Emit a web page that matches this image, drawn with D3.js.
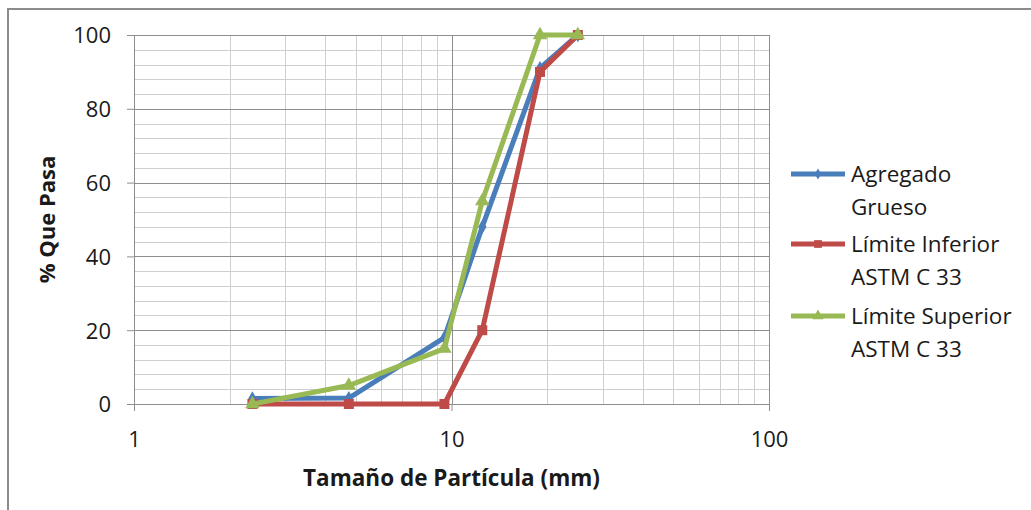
<!DOCTYPE html>
<html>
<head>
<meta charset="utf-8">
<script src="https://cdn.jsdelivr.net/npm/d3@7"></script>
<style>
  body { margin: 0; background: #fff; }
  svg text { font-family: "Open Sans", "Noto Sans", sans-serif; fill: #1a1a1a; }
</style>
</head>
<body>
<script>
// sieve sizes (mm) and % passing
const sizes = [2.36, 4.75, 9.5, 12.5, 19, 25];
const agregado = [1.5, 1.6, 18, 48, 91, 100];
const inferior = [0, 0, 0, 20, 90, 100];
const superior = [0, 5, 15, 55, 100, 100];

const seriesNames = [["Agregado", "Grueso"], ["Límite Inferior", "ASTM C 33"], ["Límite Superior", "ASTM C 33"]];
const xTicks = [1, 10, 100];
const yTicks = [0, 20, 40, 60, 80, 100];

const W = 1031, H = 510;
const margin = { top: 35, left: 134 };
const width = 769 - 134, height = 404 - 35;
const fs = "22px";

const series = [
  { name: seriesNames[0], values: agregado, color: "#4a7ebb", marker: d3.symbolDiamond, size: 60 },
  { name: seriesNames[1], values: inferior, color: "#be4b48", marker: d3.symbolSquare, size: 100 },
  { name: seriesNames[2], values: superior, color: "#98b954", marker: d3.symbolTriangle, size: 90 }
];

const x = d3.scaleLog().domain([1, 100]).range([0, width]);
const y = d3.scaleLinear().domain([0, 100]).range([height, 0]);

const svg = d3.select("body").append("svg")
  .attr("width", W)
  .attr("height", H);

// chart frame (cropped at right/bottom)
svg.append("path")
  .attr("d", `M8,${H + 5} V9 H${W + 5}`)
  .attr("fill", "none")
  .attr("stroke", "#8c8c8c")
  .attr("stroke-width", 2);

const g = svg.append("g").attr("transform", `translate(${margin.left},${margin.top})`);

// minor grid
const minorX = [];
[1, 10].forEach(b => { for (let k = 2; k <= 9; k++) minorX.push(b * k); });
const minorY = d3.range(0, 101, 4).filter(v => v % 20 !== 0);

g.selectAll(".minor-x").data(minorX).enter().append("line")
  .attr("x1", d => Math.round(x(d)) + 0.5).attr("x2", d => Math.round(x(d)) + 0.5)
  .attr("y1", 0).attr("y2", height)
  .attr("stroke", "#cfcfcf");

g.selectAll(".minor-y").data(minorY).enter().append("line")
  .attr("x1", 0).attr("x2", width)
  .attr("y1", d => Math.round(y(d)) + 0.5).attr("y2", d => Math.round(y(d)) + 0.5)
  .attr("stroke", "#cfcfcf");

// major grid
g.selectAll(".major-x").data(xTicks).enter().append("line")
  .attr("x1", d => Math.round(x(d)) + 0.5).attr("x2", d => Math.round(x(d)) + 0.5)
  .attr("y1", 0).attr("y2", height)
  .attr("stroke", "#8e8e8e");

g.selectAll(".major-y").data(yTicks).enter().append("line")
  .attr("x1", 0).attr("x2", width)
  .attr("y1", d => Math.round(y(d)) + 0.5).attr("y2", d => Math.round(y(d)) + 0.5)
  .attr("stroke", "#8e8e8e");

// axes
const yAxis = d3.axisLeft(y).tickValues(yTicks).tickSize(7).tickPadding(16);
const xAxis = d3.axisBottom(x).tickValues(xTicks).tickFormat(d3.format("d")).tickSize(7).tickPadding(20);

const ya = g.append("g").call(yAxis);
const xa = g.append("g").attr("transform", `translate(0,${height})`).call(xAxis);
[ya, xa].forEach(a => {
  a.select(".domain").attr("stroke", "#8e8e8e");
  a.selectAll(".tick line").attr("stroke", "#8e8e8e");
  a.selectAll(".tick text").style("font-size", fs).attr("fill", "#1a1a1a");
});
ya.selectAll(".tick text").attr("dy", "0.36em");

// lines
const line = d3.line().x((d, i) => x(sizes[i])).y(d => y(d));

series.forEach(s => {
  g.append("path")
    .datum(s.values)
    .attr("fill", "none")
    .attr("stroke", s.color)
    .attr("stroke-width", 5)
    .attr("stroke-linejoin", "round")
    .attr("d", line);

  g.selectAll(null).data(s.values).enter().append("path")
    .attr("d", d3.symbol().type(s.marker).size(s.size))
    .attr("transform", (d, i) => `translate(${x(sizes[i])},${y(d)})`)
    .attr("fill", s.color);
});

// axis titles
svg.append("text")
  .attr("transform", `translate(55,${margin.top + height / 2}) rotate(-90)`)
  .attr("text-anchor", "middle")
  .style("font-size", fs)
  .style("font-weight", "bold")
  .text("% Que Pasa");

svg.append("text")
  .attr("x", margin.left + width / 2)
  .attr("y", 486)
  .attr("text-anchor", "middle")
  .style("font-size", "22.5px")
  .style("font-weight", "bold")
  .text("Tamaño de Partícula (mm)");

// legend
const legendY = [174, 244, 316];
const legend = svg.selectAll(".legend").data(series).enter().append("g")
  .attr("transform", (d, i) => `translate(791,${legendY[i]})`);

legend.append("line")
  .attr("x1", 0).attr("x2", 54)
  .attr("stroke", d => d.color)
  .attr("stroke-width", 5);

legend.append("path")
  .attr("d", d => d3.symbol().type(d.marker).size(d.size * 0.6)())
  .attr("transform", "translate(27,0)")
  .attr("fill", d => d.color);

legend.append("text")
  .style("font-size", "22.5px")
  .selectAll("tspan").data(d => d.name).enter().append("tspan")
  .attr("x", 60)
  .attr("dy", (d, i) => i === 0 ? "0.36em" : "1.45em")
  .text(d => d);
</script>
</body>
</html>
